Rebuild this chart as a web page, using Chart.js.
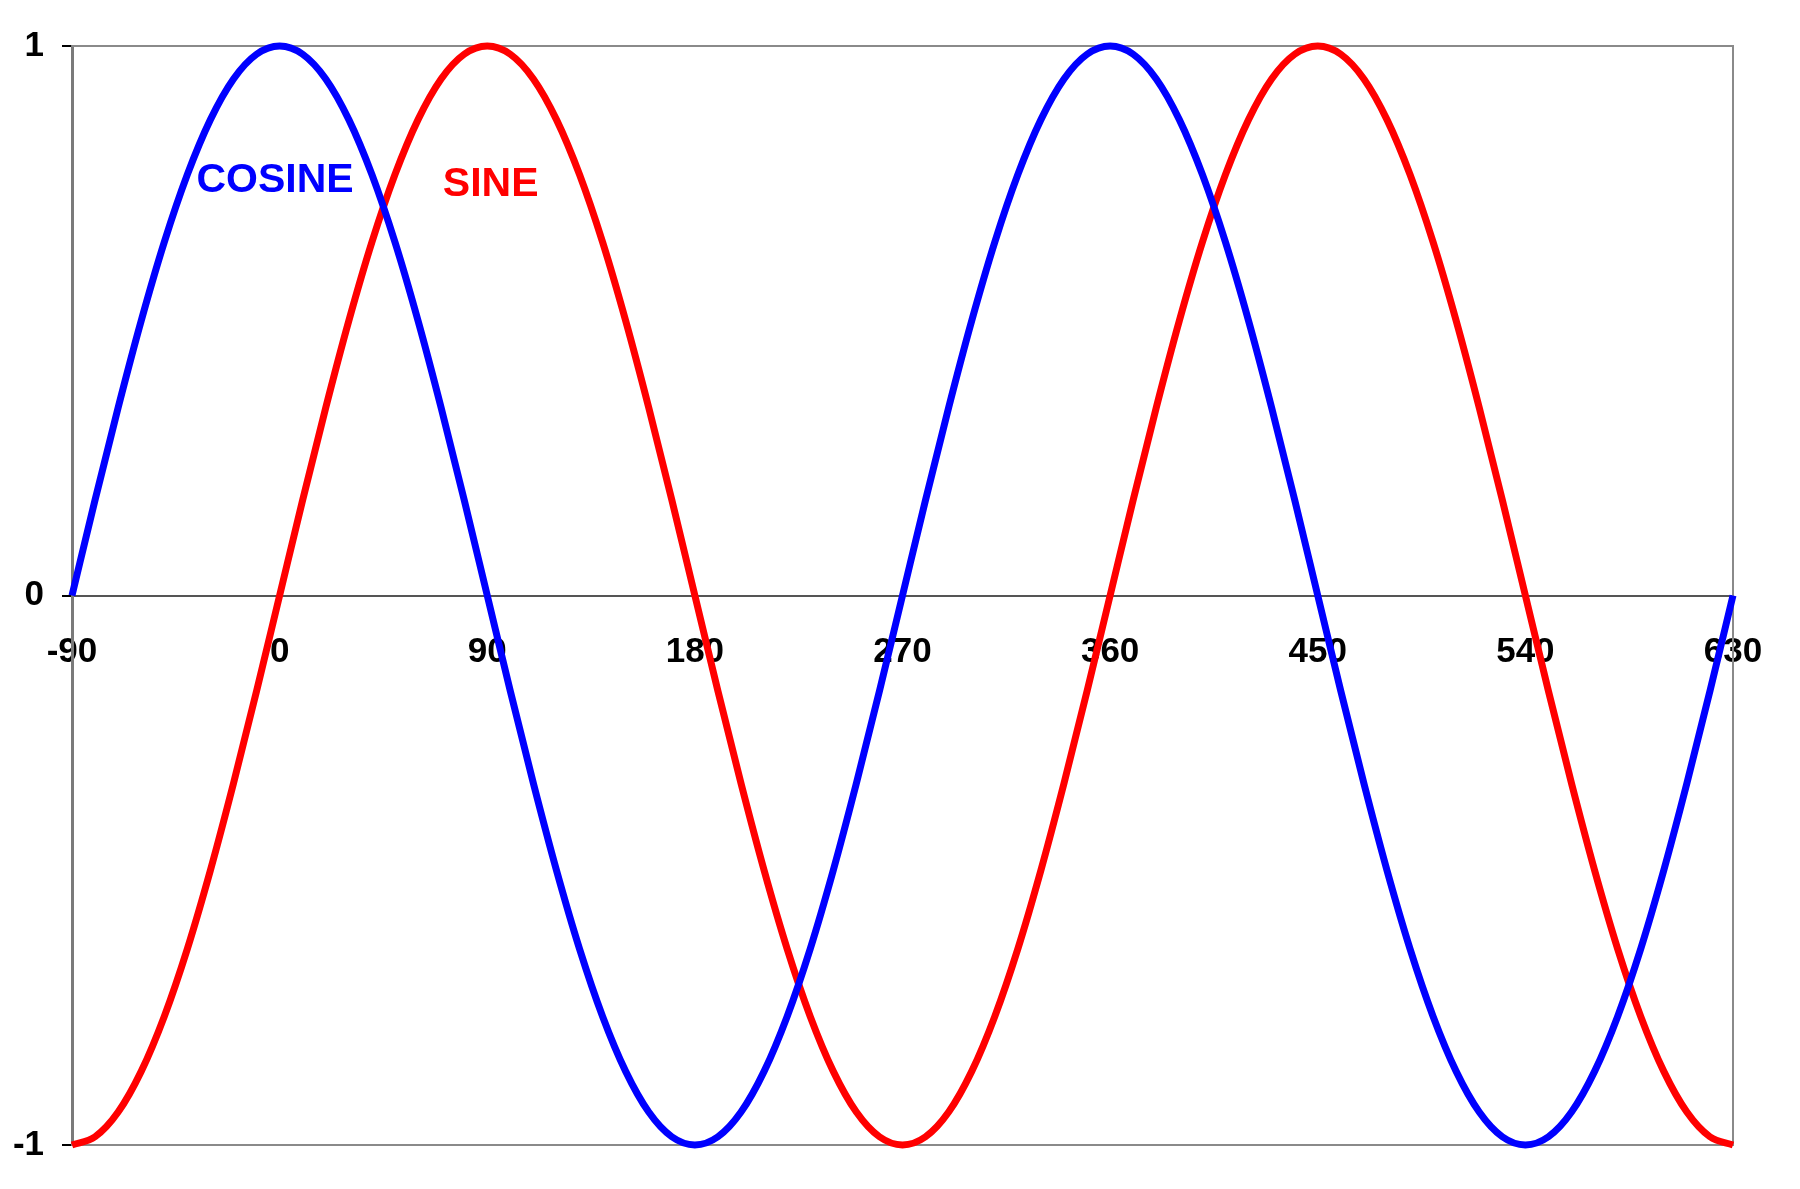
<!DOCTYPE html>
<html>
<head>
<meta charset="utf-8">
<script src="https://cdn.jsdelivr.net/npm/chart.js@4/dist/chart.umd.min.js"></script>
<style>
html,body{margin:0;padding:0;background:#fff;}
#wrap{width:1800px;height:1189px;}
</style>
</head>
<body>
<div id="wrap"><canvas id="c" width="1800" height="1189"></canvas></div>
<script>
const degrees = [-90,-80,-70,-60,-50,-40,-30,-20,-10,0,10,20,30,40,50,60,70,80,90,100,110,120,130,140,150,160,170,180,190,200,210,220,230,240,250,260,270,280,290,300,310,320,330,340,350,360,370,380,390,400,410,420,430,440,450,460,470,480,490,500,510,520,530,540,550,560,570,580,590,600,610,620,630];
const sineValues = [-1,-0.985,-0.94,-0.866,-0.766,-0.643,-0.5,-0.342,-0.174,0,0.174,0.342,0.5,0.643,0.766,0.866,0.94,0.985,1,0.985,0.94,0.866,0.766,0.643,0.5,0.342,0.174,0,-0.174,-0.342,-0.5,-0.643,-0.766,-0.866,-0.94,-0.985,-1,-0.985,-0.94,-0.866,-0.766,-0.643,-0.5,-0.342,-0.174,0,0.174,0.342,0.5,0.643,0.766,0.866,0.94,0.985,1,0.985,0.94,0.866,0.766,0.643,0.5,0.342,0.174,0,-0.174,-0.342,-0.5,-0.643,-0.766,-0.866,-0.94,-0.985,-1];
const cosineValues = [0,0.174,0.342,0.5,0.643,0.766,0.866,0.94,0.985,1,0.985,0.94,0.866,0.766,0.643,0.5,0.342,0.174,0,-0.174,-0.342,-0.5,-0.643,-0.766,-0.866,-0.94,-0.985,-1,-0.985,-0.94,-0.866,-0.766,-0.643,-0.5,-0.342,-0.174,0,0.174,0.342,0.5,0.643,0.766,0.866,0.94,0.985,1,0.985,0.94,0.866,0.766,0.643,0.5,0.342,0.174,0,-0.174,-0.342,-0.5,-0.643,-0.766,-0.866,-0.94,-0.985,-1,-0.985,-0.94,-0.866,-0.766,-0.643,-0.5,-0.342,-0.174,0];
const xTicks = [-90,0,90,180,270,360,450,540,630];
const yTicks = [-1,0,1];
const seriesLabels = ['COSINE','SINE'];
const seriesColors = ['#0000ff','#ff0000'];
const labelAnchors = [[-2,0.754],[91.5,0.748]];

const FONT = '"Liberation Sans", Arial, sans-serif';

const borderPlugin = {
  id:'plotBorder',
  beforeDatasetsDraw(chart){
    const {ctx, chartArea:a} = chart;
    ctx.save();
    ctx.strokeStyle = '#8a8a8a';
    ctx.lineWidth = 2;
    ctx.beginPath();
    ctx.moveTo(a.left, a.top); ctx.lineTo(a.right, a.top); ctx.lineTo(a.right, a.bottom); ctx.lineTo(a.left, a.bottom);
    ctx.stroke();
    ctx.restore();
  },
  afterDatasetsDraw(chart){
    const {ctx} = chart;
    const xs = chart.scales.x, ys = chart.scales.y;
    ctx.save();
    ctx.font = 'bold 41px ' + FONT;
    ctx.textAlign = 'center';
    ctx.textBaseline = 'middle';
    seriesLabels.forEach((t,i)=>{
      ctx.fillStyle = seriesColors[i];
      ctx.fillText(t, xs.getPixelForValue(labelAnchors[i][0]), ys.getPixelForValue(labelAnchors[i][1]));
    });
    ctx.restore();
  }
};

new Chart(document.getElementById('c'), {
  type:'line',
  data:{
    datasets:[
      {label:seriesLabels[0], data:degrees.map((d,i)=>({x:d,y:cosineValues[i]})), borderColor:seriesColors[0], borderWidth:7, pointRadius:0, cubicInterpolationMode:'monotone', fill:false, clip:false},
      {label:seriesLabels[1], data:degrees.map((d,i)=>({x:d,y:sineValues[i]})), borderColor:seriesColors[1], borderWidth:7, pointRadius:0, cubicInterpolationMode:'monotone', fill:false, clip:false}
    ]
  },
  options:{
    responsive:false,
    animation:false,
    devicePixelRatio:1,
    layout:{padding:{left:0,top:46,right:67,bottom:44}},
    plugins:{legend:{display:false},tooltip:{enabled:false}},
    scales:{
      x:{
        type:'linear',
        position:{y:0},
        min:-90,max:630,
        afterBuildTicks(s){ s.ticks = xTicks.map(v=>({value:v})); },
        grid:{display:false, drawTicks:false},
        border:{display:true,color:'#555',width:2},
        ticks:{color:'#000',font:{family:FONT,size:35,weight:'bold'},padding:36,maxRotation:0,autoSkip:false}
      },
      y:{
        type:'linear',
        min:-1,max:1,
        afterBuildTicks(s){ s.ticks = yTicks.map(v=>({value:v})); },
        afterFit(s){ s.width = 72; },
        grid:{drawOnChartArea:false,drawTicks:true,tickLength:10,color:'#000',lineWidth:2},
        border:{display:true,color:'#7a7a7a',width:3},
        ticks:{color:'#000',font:{family:FONT,size:35,weight:'bold'},padding:18}
      }
    }
  },
  plugins:[borderPlugin]
});
</script>
</body>
</html>
